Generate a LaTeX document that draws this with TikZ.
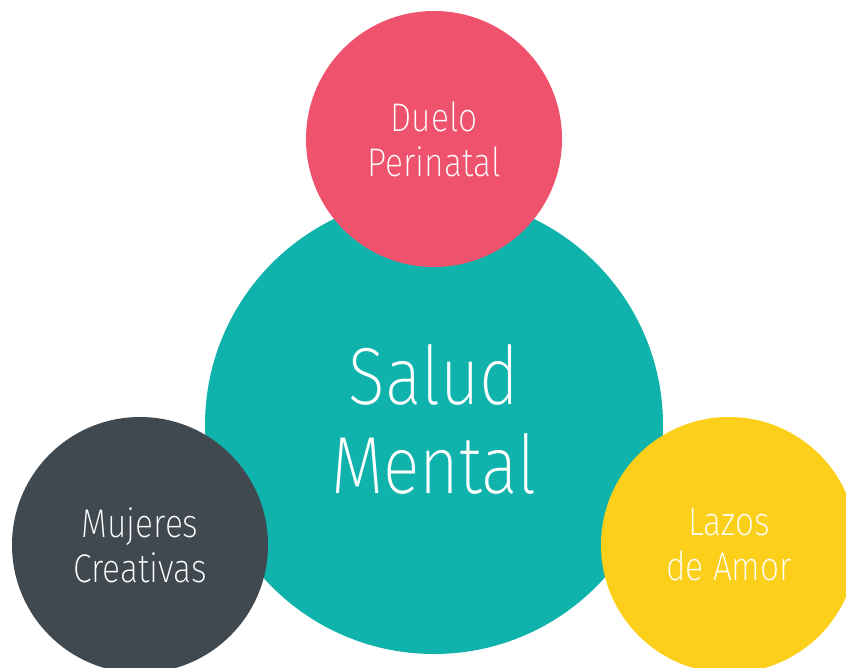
\documentclass[tikz,border=0pt]{standalone}
\usepackage{fontspec}
\setmainfont{Fira Sans ExtraLight}[FakeStretch=0.84]
\definecolor{tealc}{HTML}{10B2AC}
\definecolor{pinkc}{HTML}{EE526C}
\definecolor{darkc}{HTML}{414950}
\definecolor{yellowc}{HTML}{FCCF1B}
\begin{document}
\begin{tikzpicture}[x=1pt,y=-1pt,
  bubble/.style={circle,inner sep=0pt,minimum size=256pt,text=white,align=center,
    font=\fontsize{40}{45}\selectfont},
  hub/.style={circle,inner sep=0pt,minimum size=458pt,fill=tealc},
  hubtext/.style={text=white,align=center,font=\fontsize{81}{89}\selectfont}]
\useasboundingbox (0,0) rectangle (846,668);
\clip (0,0) rectangle (846,668);
% central topic
\node[hub] (salud) at (434,425) {};
\node[hubtext] (saludtxt) at ([yshift=6pt]salud.center) {Salud\\Mental};
% satellite topics
\node[bubble,fill=pinkc] (duelo) at (434,139) {Duelo\\Perinatal};
\node[bubble,fill=darkc] (mujeres) at (140,545) {Mujeres\\Creativas};
\node[bubble,fill=yellowc] (lazos) at (729,545) {Lazos\\de Amor};
\end{tikzpicture}
\end{document}
